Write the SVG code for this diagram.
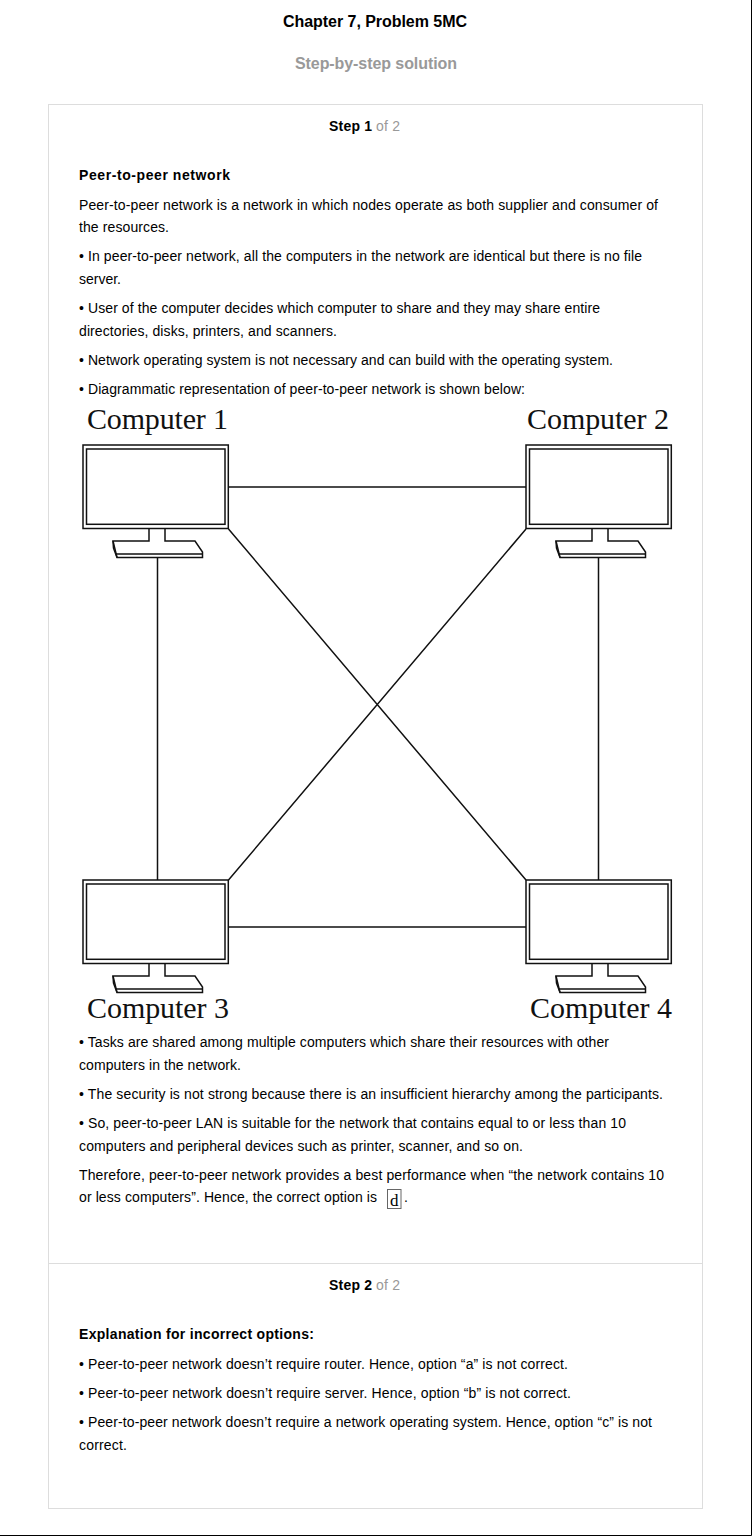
<svg xmlns="http://www.w3.org/2000/svg" width="752" height="1536" viewBox="0 0 752 1536">
<style>
text{font-family:"Liberation Sans",Arial,sans-serif;font-size:14px;fill:#000}
.b{font-weight:bold}
.g{fill:#999}
.h{font-size:16px;font-weight:bold}
.c{font-family:"Liberation Serif","Times New Roman",serif;font-size:30px;fill:#111}
.card{fill:none;stroke:#ddd;stroke-width:1}
.pc{fill:#fff;stroke:#111;stroke-width:1.5}
.ln{fill:none;stroke:#111;stroke-width:1.5}
</style>
<defs>
<g id="pc">
<rect class="pc" x="0" y="0" width="145.300" height="83.500"/>
<rect class="pc" x="3.500" y="4" width="138.500" height="75.300"/>
<path class="ln" d="M66 83.500V96H30L34 112.500H119.500V107L112 96H82V83.500"/>
<path class="ln" d="M30 96L30.500 103L34 112.500M32.500 109H119.500"/>
</g>
</defs>
<rect width="752" height="1536" fill="#fff"/>
<path d="M751.500 0V1535.500H0" fill="none" stroke="#000"/>
<g id="header">
<text class="h" x="283" y="27" textLength="184">Chapter 7, Problem 5MC</text>
<text class="h g" x="295" y="69" textLength="162">Step-by-step solution</text>
</g>
<g id="card">
<rect class="card" x="48.500" y="104.500" width="654" height="1404"/>
<path class="card" d="M49 1263.500H702"/>
</g>
<g id="step1">
<text class="b" x="329" y="131" textLength="43">Step 1</text>
<text class="g" x="376" y="131" textLength="24">of 2</text>
<text class="b" x="79" y="180" textLength="151">Peer-to-peer network</text>
<text x="79" y="210" textLength="579">Peer-to-peer network is a network in which nodes operate as both supplier and consumer of</text>
<text x="79" y="232" textLength="90">the resources.</text>
<text x="79" y="261" textLength="563">• In peer-to-peer network, all the computers in the network are identical but there is no file</text>
<text x="79" y="284" textLength="42">server.</text>
<text x="79" y="313" textLength="521">• User of the computer decides which computer to share and they may share entire</text>
<text x="79" y="336" textLength="258">directories, disks, printers, and scanners.</text>
<text x="79" y="365" textLength="534">• Network operating system is not necessary and can build with the operating system.</text>
<text x="79" y="394" textLength="446">• Diagrammatic representation of peer-to-peer network is shown below:</text>
</g>
<g id="connectors">
<path class="ln" d="M228 487H526M228 927H526M157.500 557V880M598.500 557V880M228.500 529L526 880M526 529L228.500 880"/>
</g>
<g id="computer-1">
<text class="c" x="87" y="429" textLength="141">Computer 1</text>
<use href="#pc" x="83" y="445"/>
</g>
<g id="computer-2">
<text class="c" x="527" y="429" textLength="142">Computer 2</text>
<use href="#pc" x="526" y="445"/>
</g>
<g id="computer-3">
<use href="#pc" x="83" y="880"/>
<text class="c" x="87" y="1018" textLength="142">Computer 3</text>
</g>
<g id="computer-4">
<use href="#pc" x="526" y="880"/>
<text class="c" x="530" y="1018" textLength="142">Computer 4</text>
</g>
<g id="step1-after">
<text x="79" y="1047" textLength="530">• Tasks are shared among multiple computers which share their resources with other</text>
<text x="79" y="1070" textLength="162">computers in the network.</text>
<text x="79" y="1099" textLength="584">• The security is not strong because there is an insufficient hierarchy among the participants.</text>
<text x="79" y="1128" textLength="547">• So, peer-to-peer LAN is suitable for the network that contains equal to or less than 10</text>
<text x="79" y="1151" textLength="444">computers and peripheral devices such as printer, scanner, and so on.</text>
<text x="79" y="1180" textLength="585">Therefore, peer-to-peer network provides a best performance when “the network contains 10</text>
<text x="79" y="1202" textLength="298">or less computers”. Hence, the correct option is</text>
<rect x="387.500" y="1189.500" width="13.500" height="19" fill="#fff" stroke="#666"/>
<text x="390" y="1206" style="font-family:'Liberation Serif',serif;font-size:17px">d</text>
<text x="404" y="1202">.</text>
</g>
<g id="step2">
<text class="b" x="329" y="1290" textLength="43">Step 2</text>
<text class="g" x="376" y="1290" textLength="24">of 2</text>
<text class="b" x="79" y="1339" textLength="235">Explanation for incorrect options:</text>
<text x="79" y="1369" textLength="489">• Peer-to-peer network doesn’t require router. Hence, option “a” is not correct.</text>
<text x="79" y="1398" textLength="492">• Peer-to-peer network doesn’t require server. Hence, option “b” is not correct.</text>
<text x="79" y="1427" textLength="573">• Peer-to-peer network doesn’t require a network operating system. Hence, option “c” is not</text>
<text x="79" y="1450" textLength="48">correct.</text>
</g>
</svg>
